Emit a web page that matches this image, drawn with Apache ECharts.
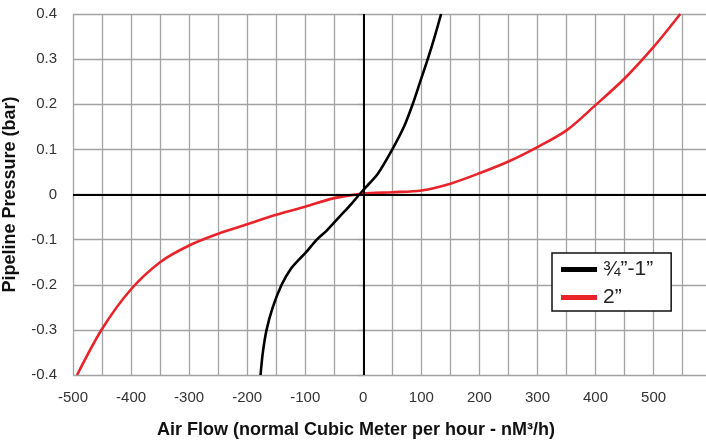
<!DOCTYPE html>
<html>
<head>
<meta charset="utf-8">
<script src="https://cdn.jsdelivr.net/npm/echarts@6/dist/echarts.min.js"></script>
<style>
  html, body { margin: 0; padding: 0; background: #fff; }
  #chart { width: 706px; height: 446px; }
</style>
</head>
<body>
<div id="chart"></div>
<script>
// air flow (nM3/h) vs pipeline pressure (bar)
var smallFlow = [-177, -173, -166.6, -156, -140.7, -125, -110, -100, -80, -63, -40, -20, 0, 25, 50, 70, 85, 98, 111, 123, 134];
var smallPressure = [-0.4, -0.35, -0.3, -0.25, -0.2, -0.165, -0.143, -0.13, -0.1, -0.08, -0.048, -0.02, 0.01, 0.046, 0.1, 0.15, 0.2, 0.25, 0.3, 0.35, 0.4];

var bigFlow = [-493, -450, -400, -350, -300, -250, -200, -150, -100, -50, 0, 50, 100, 150, 200, 250, 300, 350, 400, 450, 500, 546];
var bigPressure = [-0.4, -0.298, -0.21, -0.15, -0.113, -0.087, -0.066, -0.045, -0.027, -0.008, 0.002, 0.005, 0.009, 0.024, 0.047, 0.073, 0.105, 0.142, 0.198, 0.257, 0.327, 0.4];

var seriesNames = ['\u00be\u201d-1\u201d', '2\u201d'];
var xTicks = [-500, -400, -300, -200, -100, 0, 100, 200, 300, 400, 500];

function pairs(xs, ys) {
  return xs.map(function (x, i) { return [x, ys[i]]; });
}

var font = '"Liberation Sans", Arial, sans-serif';
var gridColor = '#a3a3a3';

var chart = echarts.init(document.getElementById('chart'));
chart.setOption({
  animation: false,
  textStyle: { fontFamily: font },
  grid: { left: 73, right: -1, top: 14, bottom: 71, containLabel: false, outerBoundsMode: 'none' },
  legend: {
    orient: 'vertical',
    left: 552,
    top: 253,
    padding: [6, 18, 3, 9],
    backgroundColor: '#fff',
    borderColor: '#111',
    borderWidth: 1.5,
    borderRadius: 0,
    itemWidth: 36,
    itemHeight: 5,
    itemGap: 7,
    icon: 'rect',
    textStyle: { fontSize: 21, color: '#222', fontFamily: font, padding: [0, 0, 0, 1] },
    data: seriesNames
  },
  xAxis: {
    type: 'value',
    min: -500,
    max: 592,
    interval: 50,
    name: 'Air Flow (normal Cubic Meter per hour - nM\u00b3/h)',
    nameLocation: 'middle',
    nameGap: 46,
    nameTextStyle: { fontSize: 18, fontWeight: 'bold', color: '#111', padding: [0, 68, 0, 0] },
    axisLine: { show: false },
    axisTick: { show: true, length: 5, lineStyle: { color: gridColor, width: 1.3 } },
    axisLabel: {
      fontSize: 15, color: '#333', margin: 15,
      formatter: function (v) { return xTicks.indexOf(v) >= 0 ? String(v) : ''; }
    },
    splitLine: { show: true, lineStyle: { color: gridColor, width: 1.3 } }
  },
  yAxis: {
    type: 'value',
    min: -0.4,
    max: 0.4,
    interval: 0.1,
    name: 'Pipeline Pressure (bar)',
    nameLocation: 'middle',
    nameGap: 54,
    nameRotate: 90,
    nameTextStyle: { fontSize: 18, fontWeight: 'bold', color: '#111' },
    axisLine: { show: false },
    axisTick: { show: true, length: 5, lineStyle: { color: gridColor, width: 1.3 } },
    axisLabel: {
      fontSize: 15, color: '#333', margin: 16,
      formatter: function (v) { return Math.abs(v) < 1e-9 ? '0' : String(Math.round(v * 10) / 10); }
    },
    splitLine: { show: true, lineStyle: { color: gridColor, width: 1.3 } }
  },
  series: [
    {
      name: seriesNames[0],
      type: 'line',
      data: pairs(smallFlow, smallPressure),
      smooth: 0.3,
      showSymbol: false,
      color: '#000',
      lineStyle: { color: '#000', width: 2.6 },
      z: 4,
      markLine: {
        silent: true,
        symbol: 'none',
        label: { show: false },
        lineStyle: { color: '#000', width: 2, type: 'solid' },
        data: [{ xAxis: 0 }, { yAxis: 0 }]
      }
    },
    {
      name: seriesNames[1],
      type: 'line',
      data: pairs(bigFlow, bigPressure),
      smooth: 0.3,
      showSymbol: false,
      color: '#e8232a',
      lineStyle: { color: '#e8232a', width: 2.6 },
      z: 3
    }
  ]
});
</script>
</body>
</html>
